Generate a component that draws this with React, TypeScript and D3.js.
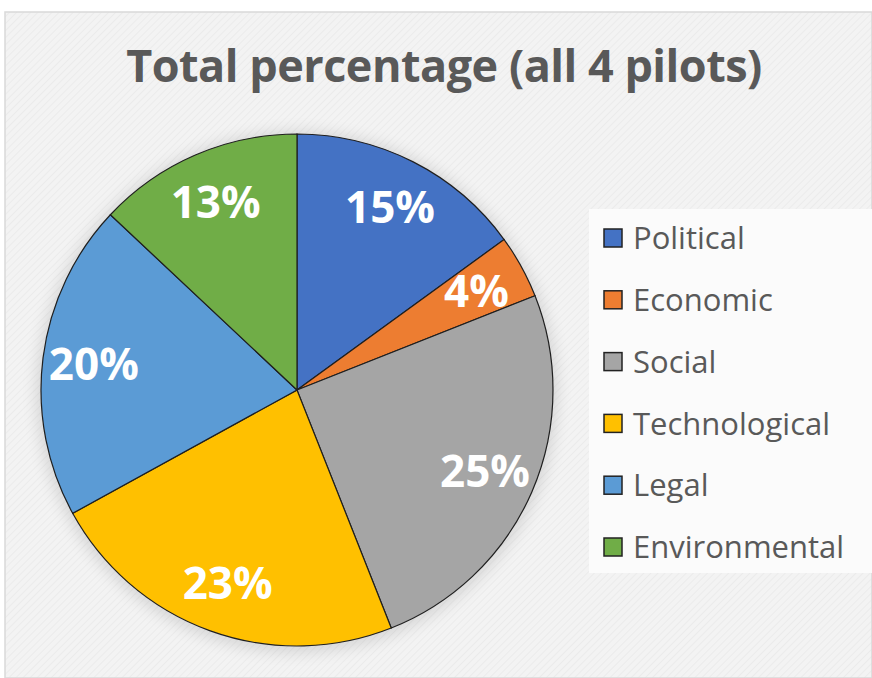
import React from "react";
import * as d3 from "d3";

const categories = ["Political", "Economic", "Social", "Technological", "Legal", "Environmental"];
const values = [15, 4, 25, 23, 20, 13];
const colors = ["#4472C4", "#ED7D31", "#A5A5A5", "#FFC000", "#5B9BD5", "#70AD47"];
const title = "Total percentage (all 4 pilots)";

const W = 872;
const H = 678;
const cx = 297;
const cy = 390;
const R = 256;

export default function App() {
  const pie = d3.pie<number>().sort(null).value((d) => d);
  const arcs = pie(values);
  const arcGen = d3.arc<d3.PieArcDatum<number>>().innerRadius(0).outerRadius(R);
  const labelArc = d3.arc<d3.PieArcDatum<number>>().innerRadius(R * 0.8).outerRadius(R * 0.8);
  const total = d3.sum(values);
  const font = "'Open Sans', 'DejaVu Sans', sans-serif";
  const legendY = d3.scalePoint<string>().domain(categories).range([238, 547]);

  return (
    <svg width={W} height={H} style={{ position: "absolute", left: 0, top: 0 }}>
      <defs>
        <pattern id="hatch" width="5" height="5" patternUnits="userSpaceOnUse" patternTransform="rotate(45)">
          <rect width="5" height="5" fill="#f3f3f3" />
          <line x1="0" y1="0" x2="0" y2="5" stroke="#e9e9e9" strokeWidth="1.5" />
        </pattern>
        <filter id="shadow" x="-20%" y="-20%" width="140%" height="140%">
          <feGaussianBlur stdDeviation="8" />
        </filter>
      </defs>
      <rect x={0} y={0} width={W} height={H} fill="#ffffff" />
      <rect x={5} y={12} width={W - 5} height={H - 12} fill="url(#hatch)" stroke="#d9d9d9" strokeWidth={1.5} />
      <text x={444} y={82} textAnchor="middle" fontFamily={font} fontWeight={700} fontSize={45} letterSpacing={-0.5} fill="#595959">
        {title}
      </text>
      <circle cx={cx} cy={cy + 2} r={R + 4} fill="#000" opacity={0.12} filter="url(#shadow)" />
      <g transform={`translate(${cx},${cy})`}>
        {arcs.map((a, i) => (
          <path key={categories[i]} d={arcGen(a) || ""} fill={colors[i]} stroke="#1f1f1f" strokeWidth={1.2} />
        ))}
        {arcs.map((a, i) => {
          const [x, y] = labelArc.centroid(a);
          return (
            <text key={"l" + i} x={x} y={y} dy="0.36em" textAnchor="middle" fontFamily={font} fontWeight={700} fontSize={44} fill="#ffffff">
              {Math.round((values[i] / total) * 100) + "%"}
            </text>
          );
        })}
      </g>
      <rect x={589} y={209} width={W - 589} height={364} fill="#fbfbfb" />
      {categories.map((c, i) => {
        const y = legendY(c) as number;
        return (
          <g key={"lg" + c}>
            <rect x={604} y={y - 9} width={18} height={18} fill={colors[i]} stroke="#222" strokeWidth={1.5} />
            <text x={633} y={y} dy="0.36em" fontFamily={font} fontSize={31} fill="#595959">
              {c}
            </text>
          </g>
        );
      })}
    </svg>
  );
}
